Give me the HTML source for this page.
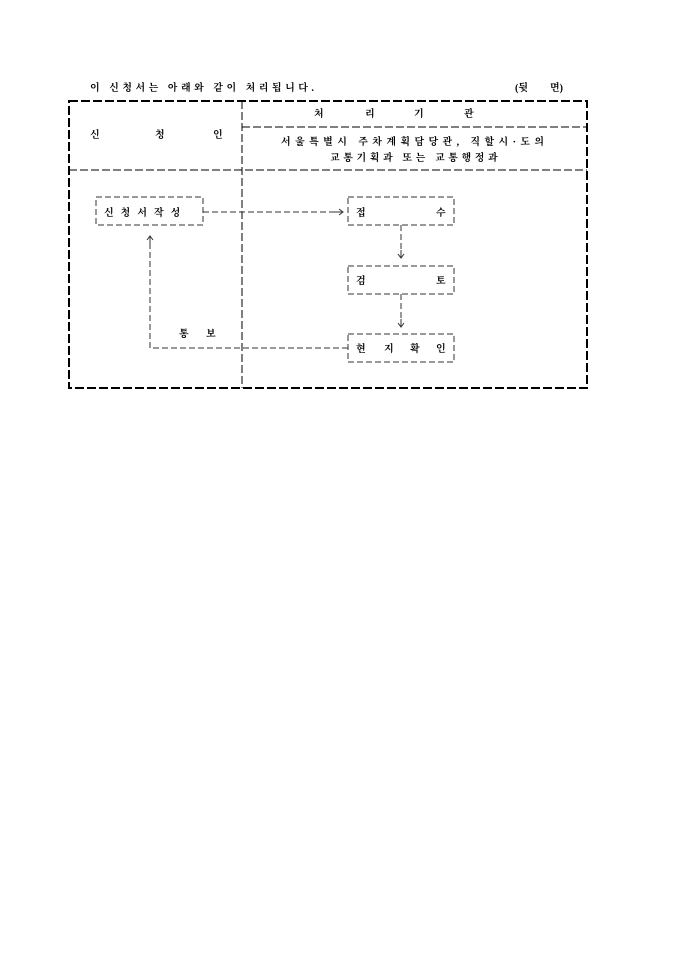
<!DOCTYPE html>
<html><head><meta charset="utf-8"><style>
html,body{margin:0;padding:0;background:#fff;}
svg{display:block;}
text{font-family:"Liberation Serif","Noto Serif CJK SC","Noto Sans CJK KR",serif;font-size:10px;font-weight:bold;fill:#000;}
</style></head><body>
<svg width="680" height="962" viewBox="0 0 680 962" xmlns="http://www.w3.org/2000/svg">
<text x="90" y="91" letter-spacing="3.5">이 신청서는 아래와 같이 처리됩니다.</text>
<text x="515" y="91">(뒷</text><text x="550" y="91">면)</text>
<g fill="none" stroke="#000" stroke-width="2" stroke-dasharray="9,3">
<rect x="69" y="101" width="518" height="287"/>
</g>
<g fill="none" stroke="#000" stroke-width="1" stroke-dasharray="8,3">
<line x1="242" y1="101" x2="242" y2="388"/>
<line x1="242" y1="127" x2="587" y2="127"/>
<line x1="69" y1="170" x2="587" y2="170"/>
</g>
<text x="314" y="117">처</text><text x="365" y="117">리</text><text x="414" y="117">기</text><text x="464" y="117">관</text>
<text x="90" y="138">신</text><text x="155" y="138">청</text><text x="213" y="138">인</text>
<text x="281" y="145" letter-spacing="4.4">서울특별시 주차계획담당관, 직할시·도의</text>
<text x="330" y="161" letter-spacing="3.6">교통기획과 또는 교통행정과</text>
<g fill="none" stroke="#333" stroke-width="1" stroke-dasharray="6,3">
<rect x="96" y="197" width="107" height="28"/>
<rect x="348" y="197" width="106" height="28"/>
<rect x="348" y="266" width="106" height="28"/>
<rect x="348" y="334" width="106" height="28"/>
<line x1="203" y1="212" x2="338" y2="212"/>
<line x1="401" y1="225" x2="401" y2="254"/>
<line x1="401" y1="294" x2="401" y2="323"/>
<polyline points="348,348 150,348 150,240"/>
</g>
<g fill="none" stroke="#333" stroke-width="1">
<line x1="334" y1="212" x2="343" y2="212"/><polyline points="339,209 343,212 339,215"/>
<line x1="401" y1="250" x2="401" y2="258"/><polyline points="398,254 401,258 404,254"/>
<line x1="401" y1="319" x2="401" y2="327"/><polyline points="398,323 401,327 404,323"/>
<line x1="150" y1="236" x2="150" y2="244"/><polyline points="147,240 150,236 153,240"/>
</g>
<text x="104" y="216" letter-spacing="7">신청서작성</text>
<text x="356" y="216">접</text><text x="436" y="216">수</text>
<text x="356" y="284">검</text><text x="436" y="284">토</text>
<text x="356" y="352">현</text><text x="384" y="352">지</text><text x="410" y="352">확</text><text x="436" y="352">인</text>
<text x="179" y="337">통</text><text x="206" y="337">보</text>
</svg>
</body></html>
